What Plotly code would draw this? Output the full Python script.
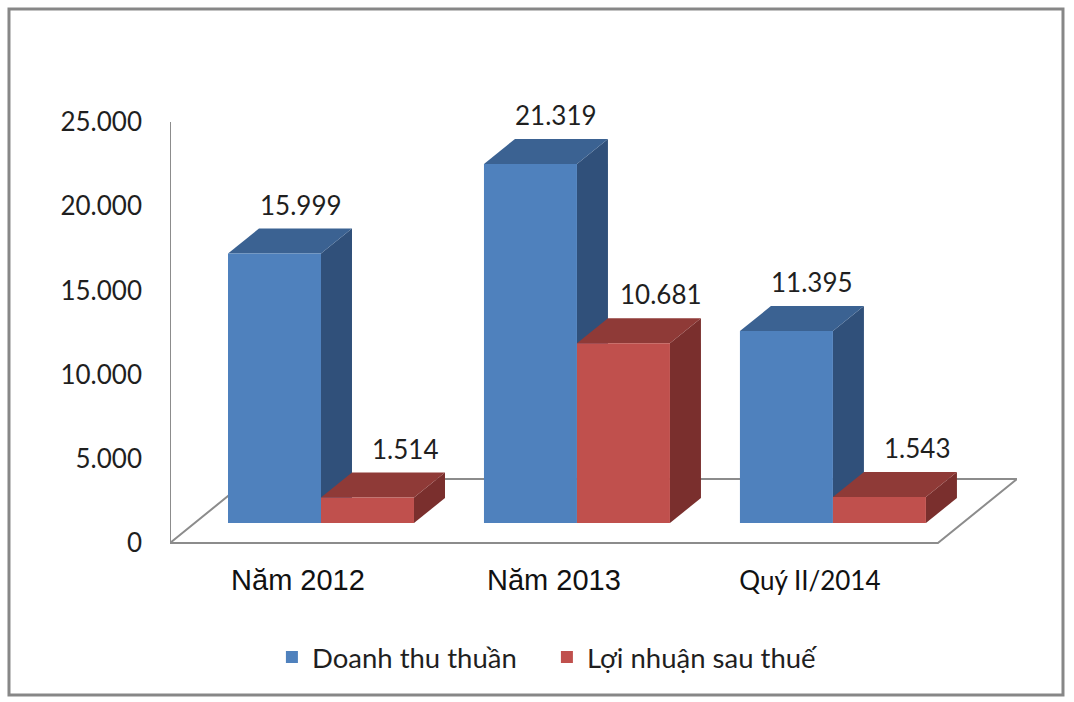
import plotly.graph_objects as go

# ---- data ----
categories = ["Năm 2012", "Năm 2013", "Quý II/2014"]
category_fonts = ["Liberation Sans", "Liberation Sans", "Lato"]
category_sizes = [29, 29, 26]
series_names = ["Doanh thu thuần", "Lợi nhuận sau thuế"]
doanh_thu = [15999, 21319, 11395]
loi_nhuan = [1514, 10681, 1543]
y_ticks = [0, 5000, 10000, 15000, 20000, 25000]

# ---- styling / geometry (pixel-derived, not data) ----
front_colors = ["#4F81BD", "#C0504D"]
top_colors = ["#3B6292", "#8F3A37"]
side_colors = ["#30507A", "#7A2F2D"]
label_xshift = [26, 38]
W = 0.3633              # bar width in category units
offsets = [-0.2734, 0.0899]
DX = 0.1211             # depth offset (x units)
DY = 1485               # depth offset (value units)

fig = go.Figure()
xs = list(range(len(categories)))
series = [doanh_thu, loi_nhuan]

for k, (name, vals) in enumerate(zip(series_names, series)):
    fig.add_trace(go.Bar(
        x=xs, y=vals, name=name, width=W, offset=offsets[k],
        marker=dict(color=front_colors[k], line=dict(width=0)),
        yaxis="y2", hoverinfo="y+name",
    ))

shapes = []
# floor
shapes.append(dict(type="path", xref="x", yref="y", layer="below",
                   path="M -0.5,0 L 2.5,0 L 2.809,3800 L -0.1914,3800 Z",
                   fillcolor="white", line=dict(color="#8C8C8C", width=2)))
# value axis line
shapes.append(dict(type="line", xref="x", yref="y", layer="below",
                   x0=-0.5, x1=-0.5, y0=0, y1=y_ticks[-1],
                   line=dict(color="#8C8C8C", width=2)))

annotations = []
for k, vals in enumerate(series):
    for i, v in enumerate(vals):
        xl = i + offsets[k]
        xr = xl + W
        # side face
        shapes.append(dict(type="path", xref="x", yref="y2", layer="below",
                           path=f"M {xr},0 L {xr},{v} L {xr+DX},{v+DY} L {xr+DX},{DY} Z",
                           fillcolor=side_colors[k], line=dict(width=0)))
        # top face
        shapes.append(dict(type="path", xref="x", yref="y2", layer="below",
                           path=f"M {xl},{v} L {xr},{v} L {xr+DX},{v+DY} L {xl+DX},{v+DY} Z",
                           fillcolor=top_colors[k], line=dict(width=0)))
        annotations.append(dict(x=xl + W / 2, y=v, xref="x", yref="y2",
                                text=f"{v:,}".replace(",", "."), showarrow=False,
                                xshift=label_xshift[k], yshift=49, yanchor="middle",
                                font=dict(family="Lato", size=26, color="#1F1F1F")))

# outer border of the chart area
shapes.append(dict(type="rect", xref="paper", yref="paper", layer="above",
                   x0=-0.1901, x1=1.0543, y0=-0.2935, y1=1.1978,
                   line=dict(color="#878787", width=3), fillcolor="rgba(0,0,0,0)"))

ticktext = [f"<span style='font-family:{f};font-size:{s}px'>{c}</span>"
            for c, f, s in zip(categories, category_fonts, category_sizes)]

fig.update_layout(
    width=1074, height=702,
    margin=dict(l=170, r=57, t=100, b=142),
    paper_bgcolor="white", plot_bgcolor="white",
    separators=",.",
    barmode="overlay",
    showlegend=True,
    legend=dict(orientation="h", x=0.445, xanchor="center", y=-0.2109, yanchor="middle",
                font=dict(family="Lato", size=27.5, color="#1F1F1F"),
                bgcolor="rgba(0,0,0,0)", itemsizing="constant",
                entrywidth=230, entrywidthmode="pixels"),
    xaxis=dict(range=[-0.5, 2.809], tickvals=xs, ticktext=ticktext,
               showgrid=False, zeroline=False, showline=False, ticks="",
               ticklabelstandoff=0,
               tickfont=dict(family="Liberation Sans", size=29, color="#111111")),
    yaxis=dict(range=[-1009.5, 26306], tickvals=y_ticks, tickformat=",d",
               showgrid=False, zeroline=False, showline=False, ticks="",
               ticklabelstandoff=27,
               tickfont=dict(family="Lato", size=26, color="#1F1F1F")),
    yaxis2=dict(range=[-2197, 25119], overlaying="y", visible=False),
    shapes=shapes,
    annotations=annotations,
)

fig.write_html("out.html", config={"displayModeBar": False},
               post_script="document.body.style.margin='0px';")
